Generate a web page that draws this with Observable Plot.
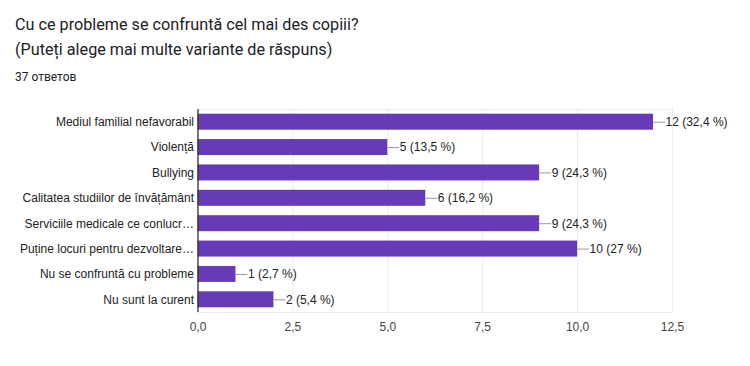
<!DOCTYPE html>
<html><head><meta charset="utf-8">
<script src="https://cdn.jsdelivr.net/npm/d3@7"></script>
<script src="https://cdn.jsdelivr.net/npm/@observablehq/plot@0.6"></script>
<style>
body{margin:0;background:#fff;width:750px;overflow:hidden}
#hdr{height:95px;position:relative;font-family:Roboto,"Liberation Sans",Arial,sans-serif;color:#202124}
#t1{position:absolute;left:15px;top:12px;font-size:16.2px;line-height:25px}
#t2{position:absolute;left:15px;top:70px;font-size:12px;color:#202124}
svg{display:block}
</style></head><body>
<div id="hdr"><div id="t1">Cu ce probleme se confruntă cel mai des copiii?<br>(Puteți alege mai multe variante de răspuns)</div><div id="t2">37 ответов</div></div>
<div id="chart"></div>
<script>
const categories = ["Mediul familial nefavorabil","Violență","Bullying","Calitatea studiilor de învățământ","Serviciile medicale ce conlucr…","Puține locuri pentru dezvoltare…","Nu se confruntă cu probleme","Nu sunt la curent"];
const values = [12,5,9,6,9,10,1,2];
const pctLabels = ["32,4","13,5","24,3","16,2","24,3","27","2,7","5,4"];
const xTicks = [0,2.5,5,7.5,10,12.5];
const data = categories.map((c,i)=>({cat:c,value:values[i],label:`${values[i]} (${pctLabels[i]} %)`}));
const fmt = d => d3.format(".1f")(d).replace(".", ",");
const chart = Plot.plot({
  width:750, height:271,
  marginTop:14, marginBottom:54, marginLeft:197.5, marginRight:78,
  style:{fontFamily:"'Liberation Sans',Arial,sans-serif",fontSize:"12px",color:"#222"},
  x:{domain:[0,12.5],ticks:xTicks,tickFormat:fmt,label:null},
  y:{domain:categories,label:null,paddingInner:0.37,paddingOuter:0.185,round:false},
  marks:[
    Plot.ruleX(xTicks.slice(1),{stroke:"#ebebeb",strokeWidth:1}),
    Plot.frame({stroke:"#ebebeb"}),
    Plot.barX(data,{x:"value",y:"cat",fill:"#673ab7"}),
    Plot.ruleY(data,{y:"cat",x1:"value",x2:"value",insetRight:-12,stroke:"#999",strokeWidth:1}),
    Plot.text(data,{x:"value",y:"cat",text:"label",dx:12,textAnchor:"start",fill:"#222",fontSize:12}),
    Plot.axisX({ticks:xTicks,tickFormat:fmt,tickSize:0,tickPadding:10,fontSize:12,fill:"#444",label:null}),
    Plot.axisY({tickSize:0,tickPadding:4,fontSize:12,fill:"#222",label:null}),
    Plot.ruleX([0],{stroke:"#333",strokeWidth:1.3})
  ]
});
document.getElementById("chart").append(chart);
</script></body></html>
